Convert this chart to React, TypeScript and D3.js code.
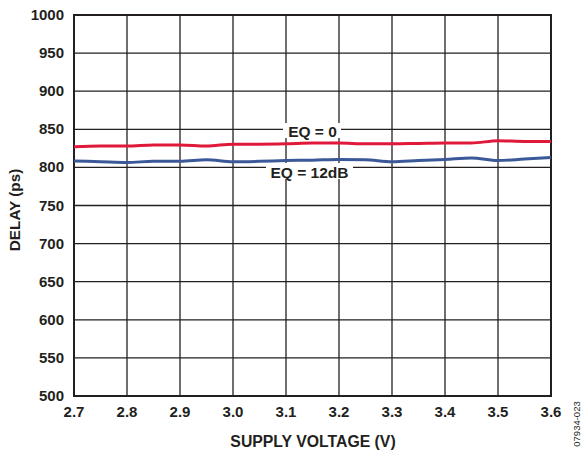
import React from "react";
import * as d3 from "d3";

const voltages = [2.7, 2.75, 2.8, 2.85, 2.9, 2.95, 3.0, 3.05, 3.1, 3.15, 3.2, 3.25, 3.3, 3.35, 3.4, 3.45, 3.5, 3.55, 3.6];
const eq0 = [827, 828, 828, 829.5, 829.5, 828, 830.5, 830.5, 831, 832, 832, 831, 831, 831.5, 832, 832, 835, 834, 834];
const eq12 = [808.5, 807.5, 806.5, 808, 808, 810, 807.5, 808, 809, 809.5, 810.5, 810, 807.5, 809, 810.5, 812.5, 809, 811, 813];
const xTicks = [2.7, 2.8, 2.9, 3.0, 3.1, 3.2, 3.3, 3.4, 3.5, 3.6];
const yTicks = [500, 550, 600, 650, 700, 750, 800, 850, 900, 950, 1000];

const W = 583, H = 455;
const L = 74, R = 551, T = 15, B = 396;
const font = "'Liberation Sans', Arial, sans-serif";

export default function App() {
  const x = d3.scaleLinear().domain([2.7, 3.6]).range([L, R]);
  const y = d3.scaleLinear().domain([500, 1000]).range([B, T]);
  const line = d3.line<number>().x((_, i) => x(voltages[i])).y((d) => y(d)).curve(d3.curveMonotoneX);

  return (
    <svg width={W} height={H} style={{ position: "absolute", left: 0, top: 0 }} fontFamily={font}>
      <rect x={0} y={0} width={W} height={H} fill="#fff" />
      {xTicks.map((t) => (
        <line key={"vx" + t} x1={x(t)} x2={x(t)} y1={T} y2={B} stroke="#231f20" strokeWidth={1.3} />
      ))}
      {yTicks.map((t) => (
        <line key={"hy" + t} x1={L} x2={R} y1={y(t)} y2={y(t)} stroke="#231f20" strokeWidth={1.3} />
      ))}
      <rect x={L} y={T} width={R - L} height={B - T} fill="none" stroke="#231f20" strokeWidth={2} />
      <path d={line(eq12) || ""} fill="none" stroke="#3b5998" strokeWidth={3} />
      <path d={line(eq0) || ""} fill="none" stroke="#e0193b" strokeWidth={3} />
      <rect x={283} y={123} width={58} height={15} fill="#fff" />
      <text x={312.5} y={137} textAnchor="middle" fontSize={15.5} fontWeight="bold" fill="#231f20">EQ = 0</text>
      <rect x={266} y={163} width={87} height={16} fill="#fff" />
      <text x={309.5} y={178} textAnchor="middle" fontSize={15.5} fontWeight="bold" fill="#231f20">EQ = 12dB</text>
      {yTicks.map((t) => (
        <text key={"yl" + t} x={64} y={y(t) + 5} textAnchor="end" fontSize={15} fontWeight="bold" fill="#231f20">{t}</text>
      ))}
      {xTicks.map((t) => (
        <text key={"xl" + t} x={x(t)} y={417} textAnchor="middle" fontSize={15} fontWeight="bold" fill="#231f20">{t.toFixed(1)}</text>
      ))}
      <text x={313} y={447} textAnchor="middle" fontSize={15.8} fontWeight="bold" fill="#231f20">SUPPLY VOLTAGE (V)</text>
      <text transform={`translate(20,${210}) rotate(-90)`} textAnchor="middle" fontSize={15.3} fontWeight="bold" fill="#231f20">DELAY (ps)</text>
      <text transform={`translate(580,${424}) rotate(-90)`} textAnchor="middle" fontSize={9.5} fill="#231f20">07934-023</text>
    </svg>
  );
}
